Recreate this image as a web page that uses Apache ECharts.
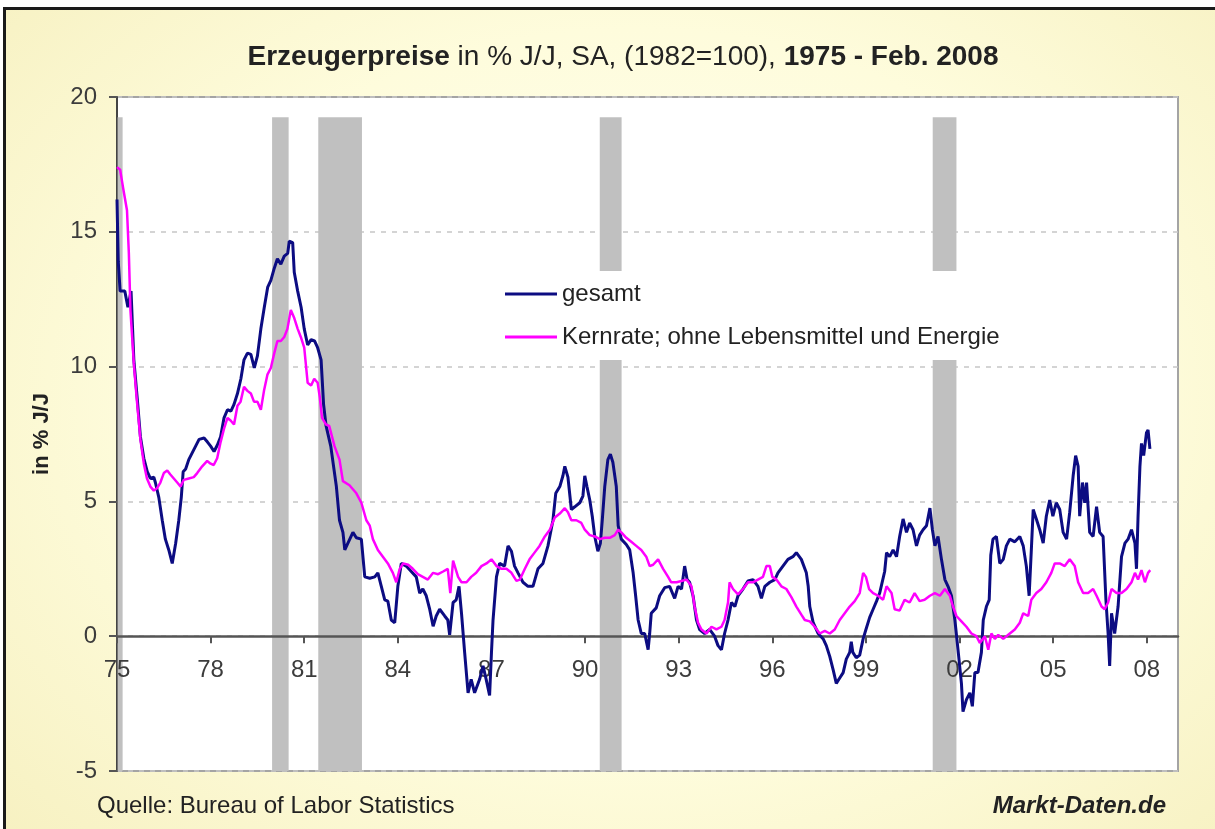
<!DOCTYPE html>
<html>
<head>
<meta charset="utf-8" />
<title>Erzeugerpreise</title>
<script src="https://cdn.jsdelivr.net/npm/echarts@6.0.0/dist/echarts.min.js"></script>
<style type="text/css">
  html, body {
    margin: 0;
    padding: 0;
    background: #fff;
    width: 1215px;
    height: 829px;
    overflow: hidden;
  }
  #frame {
    position: absolute;
    left: 3px;
    top: 7px;
    width: 1260px;
    height: 860px;
    border-left: 3px solid #1a1a1a;
    border-top: 3px solid #1a1a1a;
    background: radial-gradient(ellipse at 50% 45%, #fffff4 0%, #fefcdc 55%, #f6f0bf 100%);
  }
  #main {
    position: absolute;
    left: 0;
    top: 0;
    width: 1215px;
    height: 829px;
  }
</style>
</head>
<body>
<div id="frame"></div>
<div id="main"></div>

<script>
// x-Achse beginnt 1975, Striche alle 3 Jahre
var startJahr = 1975;
var endJahr = 2009;

// Rezessionen (Beginn, Ende) als Dezimaljahr, Balken reichen bis 19.25
var rezessionen = [
  [1975.02, 1975.18],
  [1979.97, 1980.5],
  [1981.45, 1982.85],
  [1990.47, 1991.17],
  [2001.14, 2001.9]
];
var balkenOben = 19.25;

// PPI gesamt, % J/J  [Jahr, Wert]
var gesamt = [
  [1975.0,16.2],[1975.04,13.9],[1975.1,12.8],[1975.25,12.8],[1975.35,12.2],[1975.45,12.8],
  [1975.54,10.25],[1975.65,8.8],[1975.75,7.4],[1975.86,6.6],[1975.97,6.1],[1976.07,5.85],
  [1976.18,5.9],[1976.23,5.7],[1976.34,5.15],[1976.45,4.3],[1976.55,3.6],[1976.66,3.2],
  [1976.77,2.7],[1976.88,3.45],[1976.98,4.3],[1977.06,5.15],[1977.12,6.1],[1977.2,6.2],
  [1977.3,6.55],[1977.41,6.8],[1977.52,7.05],[1977.63,7.3],[1977.79,7.35],[1977.9,7.2],
  [1978.0,7.05],[1978.11,6.85],[1978.22,7.1],[1978.32,7.4],[1978.43,8.1],[1978.54,8.4],
  [1978.65,8.35],[1978.75,8.6],[1978.86,9.0],[1978.97,9.55],[1979.07,10.25],[1979.18,10.5],
  [1979.29,10.45],[1979.4,9.95],[1979.5,10.4],[1979.61,11.4],[1979.72,12.2],[1979.83,12.95],
  [1979.93,13.2],[1980.04,13.65],[1980.14,14.0],[1980.25,13.8],[1980.36,14.1],[1980.47,14.2],
  [1980.52,14.65],[1980.63,14.6],[1980.68,13.5],[1980.79,12.8],[1980.9,12.2],[1981.0,11.4],
  [1981.11,10.8],[1981.22,11.0],[1981.33,10.95],[1981.43,10.7],[1981.54,10.25],[1981.62,8.6],
  [1981.7,7.8],[1981.85,7.05],[1982.03,5.55],[1982.13,4.3],[1982.24,3.85],[1982.3,3.2],
  [1982.4,3.45],[1982.56,3.85],[1982.67,3.65],[1982.83,3.6],[1982.94,2.2],[1983.1,2.15],
  [1983.26,2.2],[1983.36,2.35],[1983.47,1.85],[1983.58,1.35],[1983.68,1.3],[1983.79,0.6],
  [1983.9,0.5],[1984.0,1.85],[1984.11,2.7],[1984.27,2.6],[1984.43,2.4],[1984.59,2.2],
  [1984.7,1.6],[1984.8,1.75],[1984.91,1.5],[1985.02,1.0],[1985.13,0.37],[1985.23,0.75],
  [1985.34,1.0],[1985.5,0.75],[1985.6,0.6],[1985.66,0.05],[1985.77,1.25],[1985.87,1.35],
  [1985.96,1.85],[1986.04,0.85],[1986.14,-0.6],[1986.25,-2.1],[1986.35,-1.6],[1986.46,-2.1],
  [1986.62,-1.6],[1986.73,-1.1],[1986.83,-1.6],[1986.94,-2.2],[1987.0,-0.6],[1987.05,0.6],
  [1987.16,2.2],[1987.26,2.7],[1987.42,2.6],[1987.53,3.35],[1987.64,3.15],[1987.74,2.6],
  [1987.85,2.35],[1988.01,2.0],[1988.17,1.85],[1988.33,1.85],[1988.49,2.5],[1988.65,2.7],
  [1988.81,3.35],[1988.97,4.3],[1989.06,5.3],[1989.19,5.55],[1989.29,5.95],[1989.35,6.3],
  [1989.45,5.9],[1989.56,4.7],[1989.67,4.8],[1989.83,4.95],[1989.93,5.2],[1989.99,5.95],
  [1990.06,5.55],[1990.15,5.05],[1990.23,4.45],[1990.31,3.7],[1990.41,3.15],[1990.49,3.45],
  [1990.55,4.3],[1990.63,5.55],[1990.73,6.55],[1990.81,6.75],[1990.89,6.45],[1991.0,5.55],
  [1991.06,4.1],[1991.16,3.6],[1991.32,3.4],[1991.43,3.2],[1991.54,2.35],[1991.62,1.5],
  [1991.7,0.6],[1991.8,0.1],[1991.91,0.1],[1992.02,-0.5],[1992.07,0.1],[1992.12,0.85],
  [1992.28,1.05],[1992.39,1.5],[1992.55,1.8],[1992.71,1.85],[1992.87,1.4],[1992.98,1.85],
  [1993.09,1.75],[1993.19,2.6],[1993.27,2.1],[1993.35,2.0],[1993.46,1.5],[1993.57,0.6],
  [1993.67,0.25],[1993.83,0.1],[1993.99,0.25],[1994.15,0.0],[1994.26,-0.35],[1994.37,-0.5],
  [1994.47,0.1],[1994.58,0.6],[1994.69,1.25],[1994.8,1.1],[1994.9,1.5],[1995.06,1.75],
  [1995.22,2.05],[1995.38,2.1],[1995.54,1.85],[1995.65,1.4],[1995.76,1.85],[1995.92,2.0],
  [1996.08,2.1],[1996.18,2.35],[1996.34,2.6],[1996.5,2.85],[1996.66,2.95],[1996.77,3.1],
  [1996.93,2.85],[1997.09,2.35],[1997.15,1.85],[1997.2,1.1],[1997.31,0.5],[1997.47,0.1],
  [1997.63,-0.1],[1997.73,-0.35],[1997.84,-0.75],[1997.95,-1.25],[1998.05,-1.75],[1998.16,-1.55],
  [1998.27,-1.35],[1998.37,-0.85],[1998.48,-0.6],[1998.53,-0.2],[1998.58,-0.6],[1998.69,-0.8],
  [1998.8,-0.7],[1998.91,-0.1],[1999.0,0.25],[1999.12,0.7],[1999.23,1.0],[1999.34,1.3],
  [1999.44,1.6],[1999.6,2.4],[1999.66,3.1],[1999.76,2.95],[1999.87,3.2],[1999.98,2.95],
  [2000.08,3.7],[2000.19,4.35],[2000.3,3.85],[2000.4,4.2],[2000.51,3.95],[2000.62,3.35],
  [2000.72,3.75],[2000.83,3.95],[2000.94,4.1],[2001.05,4.75],[2001.13,3.95],[2001.21,3.35],
  [2001.31,3.7],[2001.42,2.85],[2001.53,2.1],[2001.63,1.85],[2001.74,1.5],[2001.85,0.6],
  [2001.95,-0.5],[2002.06,-1.75],[2002.11,-2.8],[2002.22,-2.35],[2002.33,-2.1],[2002.41,-2.6],
  [2002.49,-1.35],[2002.59,-1.35],[2002.7,-0.6],[2002.76,0.6],[2002.86,1.1],[2002.95,1.35],
  [2003.0,3.0],[2003.07,3.6],[2003.18,3.7],[2003.29,2.7],[2003.4,2.85],[2003.5,3.35],
  [2003.61,3.6],[2003.77,3.5],[2003.93,3.7],[2004.04,3.35],[2004.14,2.6],[2004.23,1.5],
  [2004.3,3.2],[2004.36,4.7],[2004.46,4.35],[2004.57,3.95],[2004.68,3.45],[2004.78,4.45],
  [2004.89,5.05],[2004.99,4.45],[2005.1,4.95],[2005.21,4.7],[2005.32,3.85],[2005.43,3.6],
  [2005.53,4.6],[2005.64,5.95],[2005.72,6.7],[2005.8,6.3],[2005.85,4.45],[2005.94,5.7],
  [2006.01,4.95],[2006.07,5.7],[2006.17,3.85],[2006.28,3.7],[2006.39,4.8],[2006.49,3.85],
  [2006.6,3.7],[2006.69,1.35],[2006.76,0.1],[2006.81,-1.1],[2006.87,0.85],[2006.97,0.1],
  [2007.08,1.1],[2007.19,2.95],[2007.3,3.45],[2007.4,3.6],[2007.51,3.95],[2007.62,3.45],
  [2007.67,2.5],[2007.72,4.45],[2007.78,6.3],[2007.83,7.15],[2007.9,6.7],[2007.99,7.55],
  [2008.04,7.65],[2008.1,6.95]
];

// Kernrate ohne Lebensmittel und Energie, % J/J
var kernrate = [
  [1975.0,17.4],[1975.1,17.3],[1975.2,16.6],[1975.32,15.8],[1975.38,14.2],[1975.43,12.1],
  [1975.54,10.1],[1975.64,8.7],[1975.75,7.3],[1975.86,6.4],[1975.96,5.85],[1976.07,5.55],
  [1976.18,5.4],[1976.29,5.5],[1976.39,5.7],[1976.5,6.05],[1976.61,6.15],[1976.71,6.0],
  [1976.82,5.85],[1976.93,5.7],[1977.04,5.55],[1977.14,5.8],[1977.3,5.85],[1977.46,5.9],
  [1977.57,6.05],[1977.73,6.3],[1977.89,6.5],[1978.0,6.4],[1978.1,6.35],[1978.21,6.6],
  [1978.32,7.2],[1978.43,7.7],[1978.54,8.1],[1978.64,8.0],[1978.75,7.85],[1978.86,8.55],
  [1978.96,8.7],[1979.07,9.25],[1979.18,9.1],[1979.29,9.0],[1979.39,8.7],[1979.5,8.7],
  [1979.61,8.4],[1979.71,9.1],[1979.82,9.7],[1979.93,9.95],[1980.04,10.5],[1980.14,10.95],
  [1980.25,10.95],[1980.36,11.1],[1980.46,11.4],[1980.57,12.1],[1980.68,11.8],[1980.79,11.4],
  [1980.89,11.1],[1981.0,10.7],[1981.11,9.4],[1981.22,9.3],[1981.32,9.55],[1981.43,9.4],
  [1981.5,8.85],[1981.57,8.1],[1981.7,7.85],[1981.8,7.8],[1981.97,7.05],[1982.13,6.55],
  [1982.24,5.75],[1982.45,5.6],[1982.67,5.3],[1982.83,4.95],[1982.99,4.3],[1983.1,4.1],
  [1983.2,3.6],[1983.36,3.2],[1983.52,2.95],[1983.68,2.7],[1983.84,2.35],[1983.95,2.0],
  [1984.06,2.5],[1984.17,2.7],[1984.33,2.65],[1984.48,2.5],[1984.64,2.3],[1984.8,2.2],
  [1984.96,2.1],[1985.13,2.35],[1985.29,2.3],[1985.45,2.4],[1985.6,2.5],[1985.68,1.6],
  [1985.77,2.8],[1985.93,2.2],[1986.04,2.0],[1986.2,2.0],[1986.35,2.2],[1986.51,2.35],
  [1986.68,2.6],[1986.84,2.7],[1987.0,2.85],[1987.16,2.6],[1987.32,2.5],[1987.48,2.5],
  [1987.64,2.35],[1987.8,2.05],[1987.91,2.1],[1988.07,2.5],[1988.22,2.85],[1988.38,3.1],
  [1988.54,3.35],[1988.71,3.7],[1988.87,3.95],[1989.03,4.4],[1989.19,4.55],[1989.35,4.75],
  [1989.45,4.6],[1989.56,4.3],[1989.72,4.3],[1989.88,4.2],[1989.99,3.95],[1990.15,3.75],
  [1990.31,3.7],[1990.47,3.6],[1990.63,3.65],[1990.79,3.65],[1990.95,3.75],[1991.06,3.95],
  [1991.16,3.85],[1991.32,3.65],[1991.48,3.5],[1991.64,3.35],[1991.8,3.2],[1991.96,2.95],
  [1992.07,2.6],[1992.18,2.65],[1992.34,2.85],[1992.5,2.5],[1992.66,2.2],[1992.76,2.0],
  [1992.93,2.0],[1993.09,2.05],[1993.25,2.1],[1993.41,1.85],[1993.51,1.1],[1993.62,0.5],
  [1993.73,0.25],[1993.89,0.1],[1994.05,0.35],[1994.21,0.25],[1994.37,0.35],[1994.47,0.6],
  [1994.58,1.25],[1994.63,2.0],[1994.74,1.75],[1994.9,1.55],[1995.06,1.75],[1995.22,2.0],
  [1995.38,2.0],[1995.54,2.1],[1995.7,2.2],[1995.81,2.6],[1995.92,2.6],[1996.0,2.2],
  [1996.13,2.1],[1996.29,1.85],[1996.45,1.75],[1996.61,1.45],[1996.77,1.1],[1996.93,0.8],
  [1997.04,0.6],[1997.2,0.55],[1997.36,0.35],[1997.52,0.1],[1997.68,0.2],[1997.84,0.1],
  [1998.0,0.25],[1998.16,0.6],[1998.32,0.85],[1998.48,1.1],[1998.64,1.3],[1998.8,1.6],
  [1998.91,2.35],[1999.0,2.2],[1999.1,1.75],[1999.23,1.6],[1999.39,1.5],[1999.55,1.35],
  [1999.66,1.85],[1999.82,1.6],[1999.92,1.0],[2000.08,0.95],[2000.24,1.35],[2000.4,1.25],
  [2000.56,1.6],[2000.72,1.3],[2000.88,1.35],[2001.05,1.5],[2001.21,1.6],[2001.37,1.5],
  [2001.53,1.75],[2001.69,1.5],[2001.79,1.1],[2001.9,0.75],[2002.06,0.55],[2002.22,0.35],
  [2002.38,0.1],[2002.54,0.0],[2002.65,-0.25],[2002.81,0.0],[2002.92,-0.5],[2003.02,0.1],
  [2003.13,-0.1],[2003.24,0.05],[2003.4,-0.1],[2003.61,0.1],[2003.77,0.25],[2003.93,0.5],
  [2004.04,0.85],[2004.2,0.75],[2004.3,1.35],[2004.46,1.6],[2004.62,1.75],[2004.78,2.0],
  [2004.94,2.35],[2005.05,2.7],[2005.21,2.7],[2005.37,2.6],[2005.53,2.85],[2005.69,2.6],
  [2005.8,2.0],[2005.96,1.6],[2006.12,1.6],[2006.28,1.75],[2006.39,1.5],[2006.55,1.1],
  [2006.65,1.0],[2006.76,1.25],[2006.87,1.75],[2007.03,1.6],[2007.19,1.6],[2007.35,1.75],
  [2007.51,2.0],[2007.62,2.35],[2007.72,2.1],[2007.83,2.45],[2007.94,2.0],[2008.04,2.35],
  [2008.11,2.45]
];

var schrift = 'Arial, "Liberation Sans", sans-serif';

// Jahre relativ zu 1975, damit die Striche bei 75, 78, 81 ... liegen
function relativ(reihe) {
  return reihe.map(function (p) { return [p[0] - startJahr, p[1]]; });
}
function relativBeide(reihe) {
  return reihe.map(function (p) { return [p[0] - startJahr, p[1] - startJahr]; });
}

// Abstand der Nulllinie vom unteren Rand des Plotbereichs (Pixel)
var gridOben = 97, gridUnten = 58, yMin = -5, yMax = 20;
var plotHoehe = 829 - gridOben - gridUnten;
var nullVersatz = -plotHoehe * (0 - yMin) / (yMax - yMin);

var chart = echarts.init(document.getElementById('main'));

chart.setOption({
  backgroundColor: 'transparent',
  animation: false,
  textStyle: {fontFamily: schrift},
  grid: {
    left: 117,
    right: 37,
    top: gridOben,
    bottom: gridUnten,
    show: true,
    backgroundColor: '#fff',
    borderColor: '#a4a4a4',
    borderWidth: 2
  },
  legend: {
    data: ['gesamt', 'Kernrate; ohne Lebensmittel und Energie'],
    orient: 'vertical',
    left: 495,
    top: 271,
    padding: [11, 10, 11, 10],
    itemGap: 19,
    itemWidth: 52,
    itemHeight: 3,
    itemTextGap: 7,
    icon: 'rect',
    backgroundColor: '#fff',
    textStyle: {fontSize: 24, color: '#222', fontFamily: schrift}
  },
  xAxis: {
    type: 'value',
    position: 'bottom',
    offset: nullVersatz,
    z: 1.5,
    min: 0,
    max: endJahr - startJahr,
    interval: 3,
    axisLine: {onZero: false, lineStyle: {color: '#555', width: 2.5}},
    axisTick: {show: true, length: 7, lineStyle: {color: '#555', width: 2}},
    axisLabel: {
      showMaxLabel: false,
      margin: 22,
      fontSize: 24,
      color: '#3c3c3c',
      fontFamily: schrift,
      formatter: function (v) {
        var s = String(Math.round(v + startJahr) % 100);
        return s.length < 2 ? '0' + s : s;
      }
    },
    splitLine: {show: false}
  },
  yAxis: {
    type: 'value',
    min: yMin,
    max: yMax,
    interval: 5,
    name: 'in % J/J',
    nameLocation: 'middle',
    nameRotate: 90,
    nameGap: 64,
    nameTextStyle: {fontSize: 22, fontWeight: 'bold', color: '#222', fontFamily: schrift},
    axisLine: {show: true, onZero: false, lineStyle: {color: '#444', width: 2}},
    axisTick: {show: true, length: 8, lineStyle: {color: '#555', width: 2}},
    axisLabel: {margin: 20, fontSize: 24, color: '#3c3c3c', fontFamily: schrift},
    splitLine: {
      show: true,
      lineStyle: {color: '#c6c6c6', type: [5, 6], width: 1.5}
    }
  },
  graphic: [
    {
      type: 'text',
      x: 623,
      y: 57,
      style: {
        text: '{b|Erzeugerpreise}{n| in % J/J, SA, (1982=100), }{b|1975 - Feb. 2008}',
        align: 'center',
        verticalAlign: 'middle',
        rich: {
          b: {fontSize: 28, fontWeight: 'bold', fill: '#222', fontFamily: schrift},
          n: {fontSize: 28, fill: '#222', fontFamily: schrift}
        }
      }
    },
    {
      type: 'text',
      x: 97,
      y: 806,
      style: {
        text: 'Quelle: Bureau of Labor Statistics',
        align: 'left',
        verticalAlign: 'middle',
        fontSize: 24,
        fill: '#222',
        fontFamily: schrift
      }
    },
    {
      type: 'text',
      x: 1166,
      y: 806,
      style: {
        text: 'Markt-Daten.de',
        align: 'right',
        verticalAlign: 'middle',
        fontSize: 24,
        fontWeight: 'bold',
        fontStyle: 'italic',
        fill: '#222',
        fontFamily: schrift
      }
    }
  ],
  series: [
    {
      // graue Balken fuer Rezessionen
      name: 'Rezession',
      type: 'custom',
      z: 1,
      silent: true,
      encode: {x: [0, 1]},
      data: relativBeide(rezessionen),
      renderItem: function (params, api) {
        var p1 = api.coord([api.value(0), balkenOben]);
        var p2 = api.coord([api.value(1), yMin]);
        return {
          type: 'rect',
          shape: {x: p1[0], y: p1[1], width: p2[0] - p1[0], height: p2[1] - p1[1]},
          style: {fill: '#c0c0c0'}
        };
      }
    },
    {
      name: 'gesamt',
      type: 'line',
      z: 3,
      data: relativ(gesamt),
      showSymbol: false,
      symbol: 'none',
      color: '#0c0c82',
      lineStyle: {color: '#0c0c82', width: 3}
    },
    {
      name: 'Kernrate; ohne Lebensmittel und Energie',
      type: 'line',
      z: 4,
      data: relativ(kernrate),
      showSymbol: false,
      symbol: 'none',
      color: '#ff00ff',
      lineStyle: {color: '#ff00ff', width: 2.5}
    }
  ]
});
</script>
</body>
</html>
